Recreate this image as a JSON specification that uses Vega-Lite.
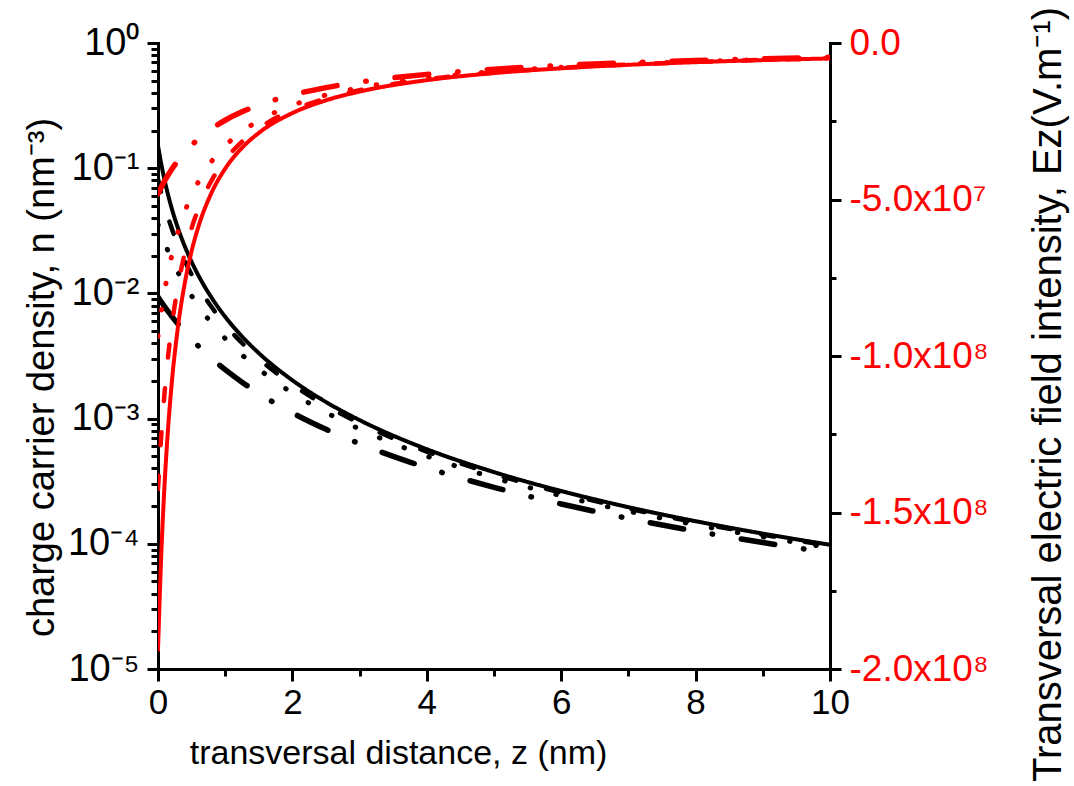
{
  "$schema": "https://vega.github.io/schema/vega-lite/v6.json",
  "autosize": "none",
  "width": 672,
  "height": 626,
  "padding": {"top": 43, "left": 158, "right": 244, "bottom": 117},
  "background": "white",
  "config": {
    "view": {"stroke": null},
    "font": "Liberation Sans",
    "axis": {"labelFont": "Liberation Sans", "titleFont": "Liberation Sans", "grid": false, "domainColor": "black", "tickColor": "black", "labelColor": "black", "titleColor": "black", "titleFontWeight": "normal", "domainWidth": 3, "tickWidth": 3, "domainCap": "square"}
  },
  "datasets": {
    "d": [
      {"s": "s1", "z": 0, "n": 0.15179, "E": -193870000},
      {"s": "s1", "z": 0.05, "n": 0.10691, "E": -162700000},
      {"s": "s1", "z": 0.1, "n": 0.07934, "E": -140170000},
      {"s": "s1", "z": 0.15, "n": 0.06121, "E": -123110000},
      {"s": "s1", "z": 0.2, "n": 0.04865, "E": -109760000},
      {"s": "s1", "z": 0.3, "n": 0.03285, "E": -90196000},
      {"s": "s1", "z": 0.4, "n": 0.02367, "E": -76551000},
      {"s": "s1", "z": 0.5, "n": 0.01785, "E": -66491000},
      {"s": "s1", "z": 0.6, "n": 0.01395, "E": -58769000},
      {"s": "s1", "z": 0.8, "n": 0.009185, "E": -47691000},
      {"s": "s1", "z": 1, "n": 0.006503, "E": -40127000},
      {"s": "s1", "z": 1.25, "n": 0.004529, "E": -33488000},
      {"s": "s1", "z": 1.5, "n": 0.003334, "E": -28734000},
      {"s": "s1", "z": 2, "n": 0.002023, "E": -22379000},
      {"s": "s1", "z": 2.5, "n": 0.001356, "E": -18327000},
      {"s": "s1", "z": 3, "n": 0.0009723, "E": -15517000},
      {"s": "s1", "z": 4, "n": 0.0005695, "E": -11875000},
      {"s": "s1", "z": 5, "n": 0.0003736, "E": -9618000},
      {"s": "s1", "z": 6, "n": 0.0002638, "E": -8082000},
      {"s": "s1", "z": 7, "n": 0.0001961, "E": -6969000},
      {"s": "s1", "z": 8, "n": 0.0001515, "E": -6125000},
      {"s": "s1", "z": 9, "n": 0.0001206, "E": -5464000},
      {"s": "s1", "z": 10, "n": 0.00009821, "E": -4931000},
      {"s": "s2", "z": 0, "n": 0.08205, "E": -142540000},
      {"s": "s2", "z": 0.05, "n": 0.06304, "E": -124940000},
      {"s": "s2", "z": 0.1, "n": 0.04995, "E": -111210000},
      {"s": "s2", "z": 0.15, "n": 0.04055, "E": -100200000},
      {"s": "s2", "z": 0.2, "n": 0.03357, "E": -91170000},
      {"s": "s2", "z": 0.3, "n": 0.0241, "E": -77250000},
      {"s": "s2", "z": 0.4, "n": 0.01814, "E": -67020000},
      {"s": "s2", "z": 0.5, "n": 0.01414, "E": -59180000},
      {"s": "s2", "z": 0.6, "n": 0.01134, "E": -52980000},
      {"s": "s2", "z": 0.8, "n": 0.007751, "E": -43810000},
      {"s": "s2", "z": 1, "n": 0.005632, "E": -37340000},
      {"s": "s2", "z": 1.25, "n": 0.004014, "E": -31530000},
      {"s": "s2", "z": 1.5, "n": 0.003005, "E": -27280000},
      {"s": "s2", "z": 2, "n": 0.001864, "E": -21490000},
      {"s": "s2", "z": 2.5, "n": 0.001269, "E": -17720000},
      {"s": "s2", "z": 3, "n": 0.0009186, "E": -15080000},
      {"s": "s2", "z": 4, "n": 0.0005452, "E": -11620000},
      {"s": "s2", "z": 5, "n": 0.0003606, "E": -9449000},
      {"s": "s2", "z": 6, "n": 0.000256, "E": -7962000},
      {"s": "s2", "z": 7, "n": 0.0001911, "E": -6880000},
      {"s": "s2", "z": 8, "n": 0.0001481, "E": -6056000},
      {"s": "s2", "z": 9, "n": 0.0001182, "E": -5409000},
      {"s": "s2", "z": 10, "n": 0.00009643, "E": -4887000},
      {"s": "s3", "z": 0, "n": 0.03546, "E": -93700000},
      {"s": "s3", "z": 0.05, "n": 0.0297, "E": -85760000},
      {"s": "s3", "z": 0.1, "n": 0.02524, "E": -79060000},
      {"s": "s3", "z": 0.15, "n": 0.02172, "E": -73330000},
      {"s": "s3", "z": 0.2, "n": 0.01888, "E": -68380000},
      {"s": "s3", "z": 0.3, "n": 0.01465, "E": -60240000},
      {"s": "s3", "z": 0.4, "n": 0.0117, "E": -53830000},
      {"s": "s3", "z": 0.5, "n": 0.00956, "E": -48650000},
      {"s": "s3", "z": 0.6, "n": 0.007956, "E": -44390000},
      {"s": "s3", "z": 0.8, "n": 0.005759, "E": -37760000},
      {"s": "s3", "z": 1, "n": 0.00436, "E": -32860000},
      {"s": "s3", "z": 1.25, "n": 0.003227, "E": -28270000},
      {"s": "s3", "z": 1.5, "n": 0.002485, "E": -24800000},
      {"s": "s3", "z": 2, "n": 0.001603, "E": -19920000},
      {"s": "s3", "z": 2.5, "n": 0.001119, "E": -16640000},
      {"s": "s3", "z": 3, "n": 0.0008251, "E": -14290000},
      {"s": "s3", "z": 4, "n": 0.0005017, "E": -11150000},
      {"s": "s3", "z": 5, "n": 0.0003369, "E": -9134000},
      {"s": "s3", "z": 6, "n": 0.0002418, "E": -7737000},
      {"s": "s3", "z": 7, "n": 0.0001819, "E": -6711000},
      {"s": "s3", "z": 8, "n": 0.0001418, "E": -5925000},
      {"s": "s3", "z": 9, "n": 0.0001136, "E": -5304000},
      {"s": "s3", "z": 10, "n": 0.00009308, "E": -4801000},
      {"s": "s4", "z": 0, "n": 0.009379, "E": -48190000},
      {"s": "s4", "z": 0.05, "n": 0.008545, "E": -46000000},
      {"s": "s4", "z": 0.1, "n": 0.007818, "E": -44000000},
      {"s": "s4", "z": 0.15, "n": 0.007181, "E": -42170000},
      {"s": "s4", "z": 0.2, "n": 0.006618, "E": -40480000},
      {"s": "s4", "z": 0.3, "n": 0.005674, "E": -37480000},
      {"s": "s4", "z": 0.4, "n": 0.004918, "E": -34900000},
      {"s": "s4", "z": 0.5, "n": 0.004304, "E": -32650000},
      {"s": "s4", "z": 0.6, "n": 0.003798, "E": -30670000},
      {"s": "s4", "z": 0.8, "n": 0.003021, "E": -27350000},
      {"s": "s4", "z": 1, "n": 0.00246, "E": -24680000},
      {"s": "s4", "z": 1.25, "n": 0.001955, "E": -22000000},
      {"s": "s4", "z": 1.5, "n": 0.00159, "E": -19840000},
      {"s": "s4", "z": 2, "n": 0.001112, "E": -16590000},
      {"s": "s4", "z": 2.5, "n": 0.0008205, "E": -14250000},
      {"s": "s4", "z": 3, "n": 0.0006304, "E": -12490000},
      {"s": "s4", "z": 4, "n": 0.0004055, "E": -10020000},
      {"s": "s4", "z": 5, "n": 0.0002825, "E": -8364000},
      {"s": "s4", "z": 6, "n": 0.000208, "E": -7177000},
      {"s": "s4", "z": 7, "n": 0.0001596, "E": -6286000},
      {"s": "s4", "z": 8, "n": 0.0001263, "E": -5591000},
      {"s": "s4", "z": 9, "n": 0.0001024, "E": -5035000},
      {"s": "s4", "z": 10, "n": 0.00008468, "E": -4579000}
    ]
  },
  "data": {"name": "d"},
  "resolve": {"scale": {"y": "independent"}, "axis": {"x": "independent", "y": "independent"}},
  "layer": [
    {
      "mark": {"type": "line", "color": "black", "interpolate": "monotone", "strokeCap": "round", "clip": true},
      "encoding": {
        "x": {"field": "z", "type": "quantitative", "scale": {"domain": [0, 10], "nice": false, "zero": false},
          "axis": {"orient": "bottom", "values": [0, 2, 4, 6, 8, 10], "format": "d", "tickSize": 12, "labelFontSize": 35, "labelPadding": 4, "labelFlush": false,
            "title": "transversal distance, z (nm)", "titleFontSize": 34, "titleX": 240, "titleY": 94, "titleBaseline": "alphabetic", "titleAnchor": null}},
        "y": {"field": "n", "type": "quantitative", "scale": {"type": "log", "domain": [0.00001, 1], "nice": false},
          "axis": {"orient": "left", "values": [1, 0.1, 0.01, 0.001, 0.0001, 0.00001], "tickSize": 11, "labelFontSize": 38, "labelPadding": 8, "labelFlush": false,
            "labelExpr": "datum.value > 0.5 ? '10⁰' : datum.value > 0.05 ? '10⁻¹' : datum.value > 0.005 ? '10⁻²' : datum.value > 0.0005 ? '10⁻³' : datum.value > 0.00005 ? '10⁻⁴' : '10⁻⁵'",
            "title": "charge carrier density, n (nm⁻³)", "titleFontSize": 38, "titleAngle": 270, "titleX": -116, "titleY": 334, "titleBaseline": "middle", "titleAlign": "center"}},
        "strokeDash": {"field": "s", "type": "nominal", "scale": {"domain": ["s1", "s2", "s3", "s4"], "range": [[1, 0], [13, 31], [0.5, 26], [34, 29, 0.5, 29]]}, "legend": null},
        "strokeWidth": {"field": "s", "type": "ordinal", "scale": {"domain": ["s1", "s2", "s3", "s4"], "range": [4, 5.5, 5.5, 8]}, "legend": null}
      }
    },
    {
      "mark": {"type": "line", "color": "#ff0000", "interpolate": "monotone", "strokeCap": "round", "clip": true},
      "encoding": {
        "x": {"field": "z", "type": "quantitative",
          "axis": {"orient": "bottom", "values": [1, 3, 5, 7, 9], "tickSize": 7, "labels": false, "domain": false, "title": null}},
        "y": {"field": "E", "type": "quantitative", "scale": {"domain": [-200000000, 0], "nice": false, "zero": false},
          "axis": {"orient": "right", "values": [0, -50000000, -100000000, -150000000, -200000000], "tickSize": 11, "labelFontSize": 37, "labelColor": "#ff0000", "labelPadding": 8, "labelFlush": false,
            "labelExpr": "datum.value == 0 ? '0.0' : datum.value == -50000000 ? '-5.0x10⁷' : datum.value == -100000000 ? '-1.0x10⁸' : datum.value == -150000000 ? '-1.5x10⁸' : '-2.0x10⁸'",
            "title": "Transversal electric field intensity, Ez(V.m⁻¹)", "titleFontSize": 40, "titleAngle": 270, "titleX": 218, "titleY": 351, "titleBaseline": "middle", "titleAlign": "center"}},
        "strokeDash": {"field": "s", "type": "nominal", "scale": {"domain": ["s1", "s2", "s3", "s4"], "range": [[1, 0], [13, 31], [0.5, 26], [34, 29, 0.5, 29]]}, "legend": null},
        "strokeWidth": {"field": "s", "type": "ordinal", "scale": {"domain": ["s1", "s2", "s3", "s4"], "range": [4, 5.5, 5.5, 8]}, "legend": null}
      }
    },
    {
      "mark": {"type": "line", "opacity": 0},
      "encoding": {
        "x": {"field": "z", "type": "quantitative", "axis": null},
        "y": {"field": "n", "type": "quantitative", "scale": {"type": "log", "domain": [0.00001, 1], "nice": false},
          "axis": {"orient": "left", "values": [0.00002, 0.00003, 0.00004, 0.00005, 0.00006, 0.00007, 0.00008, 0.00009, 0.0002, 0.0003, 0.0004, 0.0005, 0.0006, 0.0007, 0.0008, 0.0009, 0.002, 0.003, 0.004, 0.005, 0.006, 0.007, 0.008, 0.009, 0.02, 0.03, 0.04, 0.05, 0.06, 0.07, 0.08, 0.09, 0.2, 0.3, 0.4, 0.5, 0.6, 0.7, 0.8, 0.9],
            "tickSize": 7, "labels": false, "domain": false, "title": null}},
        "detail": {"field": "s"}
      }
    },
    {
      "mark": {"type": "line", "opacity": 0},
      "encoding": {
        "x": {"field": "z", "type": "quantitative", "axis": null},
        "y": {"field": "E", "type": "quantitative", "scale": {"domain": [-200000000, 0], "nice": false, "zero": false},
          "axis": {"orient": "right", "values": [-25000000, -75000000, -125000000, -175000000], "tickSize": 6, "labels": false, "domain": false, "title": null}},
        "detail": {"field": "s"}
      }
    }
  ]
}
